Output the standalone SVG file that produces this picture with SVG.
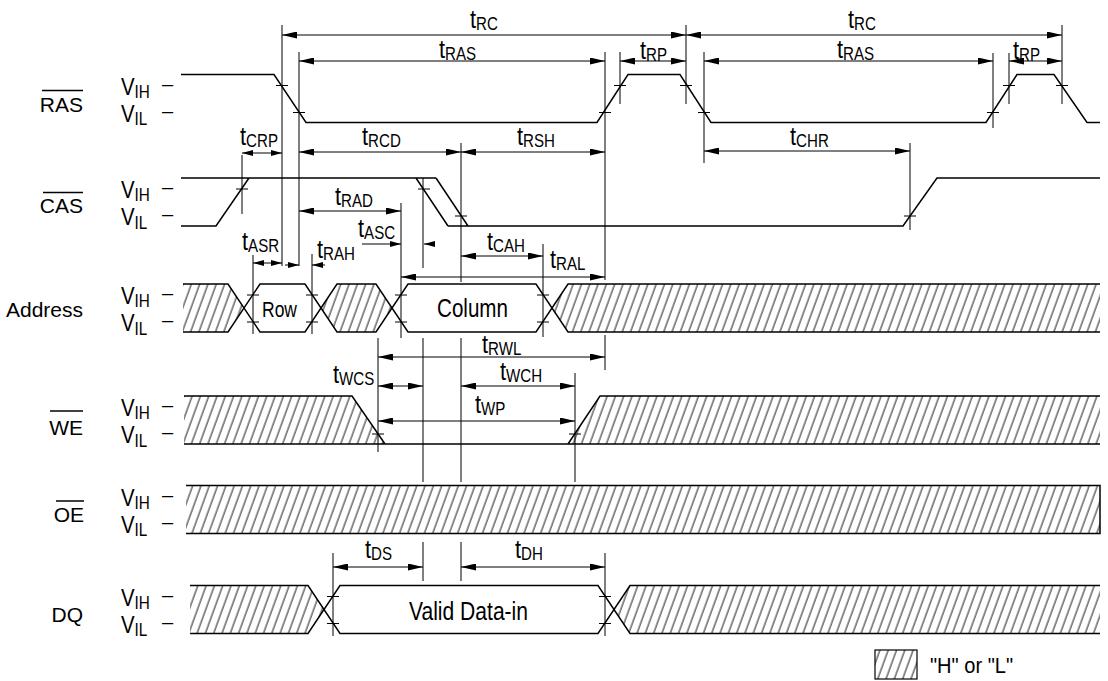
<svg xmlns="http://www.w3.org/2000/svg" width="1108" height="681" viewBox="0 0 1108 681">
<defs>
<style>
text{font-family:"Liberation Sans",Arial,sans-serif;fill:#000}
.nm{font-size:21px;text-anchor:end}
.v{font-size:24px}
.vs{font-size:18px}
.dash{font-size:20px}
.tl{font-size:26px}
.ts{font-size:18px}
.wave{fill:none;stroke:#000;stroke-width:1.5;stroke-linejoin:miter}
.hz{fill:url(#hatch);stroke:none}
.vl{stroke:#000;stroke-width:1;fill:none}
.tick{stroke:#000;stroke-width:1.2;fill:none}
.dim{stroke:#000;stroke-width:1;fill:none;marker-start:url(#ah);marker-end:url(#ah)}
.dims{stroke:#000;stroke-width:1;fill:none;marker-start:url(#as);marker-end:url(#as)}
.out{stroke:#000;stroke-width:1;fill:none;marker-end:url(#as)}
.bar{stroke:#000;stroke-width:1.5}
</style>
<pattern id="hatch" patternUnits="userSpaceOnUse" width="7.8" height="20" patternTransform="rotate(20)">
<line x1="4" y1="-1" x2="4" y2="21" stroke="#000" stroke-width="0.9"/>
</pattern>
<marker id="ah" markerUnits="userSpaceOnUse" viewBox="0 0 15 7" markerWidth="15" markerHeight="7" refX="15" refY="3.5" orient="auto-start-reverse">
<path d="M0,0 L15,3.5 L0,7 Z" fill="#000"/>
</marker>
<marker id="as" markerUnits="userSpaceOnUse" viewBox="0 0 11 6" markerWidth="11" markerHeight="6" refX="11" refY="3" orient="auto-start-reverse">
<path d="M0,0 L11,3 L0,6 Z" fill="#000"/>
</marker>
</defs>
<rect width="1108" height="681" fill="#fff"/>

<!-- RAS -->
<g id="sig-ras">
<text class="nm" x="83" y="112">RAS</text>
<line class="bar" x1="42" y1="90.5" x2="83" y2="90.5"/>
<text transform="translate(121,94.5) scale(0.85,1)"><tspan class="v">V</tspan><tspan class="vs" dy="3">IH</tspan></text><text class="dash" x="162" y="90.9">–</text>
<text transform="translate(121,121.5) scale(0.85,1)"><tspan class="v">V</tspan><tspan class="vs" dy="3.5">IL</tspan></text><text class="dash" x="162" y="117.9">–</text>
<path class="wave" d="M181,74.5 H274 L306,122.5 H597 L628,74.5 H680 L711,122.5 H986 L1017,74.5 H1054 L1087,122.5 H1100"/>
<path class="tick" d="M276,85.5h12 M293,112.5h12 M599,112.5h12 M614,85.5h12 M680,85.5h12 M698,112.5h12 M987,112.5h12 M1003,85.5h12 M1056,85.5h12"/>
</g>

<!-- CAS -->
<g id="sig-cas">
<text class="nm" x="83" y="213">CAS</text>
<line class="bar" x1="43" y1="192.5" x2="83" y2="192.5"/>
<text transform="translate(121,198) scale(0.85,1)"><tspan class="v">V</tspan><tspan class="vs" dy="3">IH</tspan></text><text class="dash" x="162" y="194.4">–</text>
<text transform="translate(121,225) scale(0.85,1)"><tspan class="v">V</tspan><tspan class="vs" dy="3.5">IL</tspan></text><text class="dash" x="162" y="221.4">–</text>
<path class="wave" d="M181,226 H216 L249,178 M181,178 H436 M416,178 L448,226 M436,178 L468,226 M448,226 H903 L937,178 H1100"/>
<path class="tick" d="M236,189h12 M418,189h12 M455,216h12 M904,216h12"/>
</g>

<!-- Address -->
<g id="sig-address">
<text class="nm" x="83" y="317">Address</text>
<text transform="translate(121,304) scale(0.85,1)"><tspan class="v">V</tspan><tspan class="vs" dy="3">IH</tspan></text><text class="dash" x="162" y="300.4">–</text>
<text transform="translate(121,331) scale(0.85,1)"><tspan class="v">V</tspan><tspan class="vs" dy="3.5">IL</tspan></text><text class="dash" x="162" y="327.4">–</text>
<path class="hz" d="M183,284 H228 L244,308 L228,332 H183 Z M321,308 L337,284 H376 L392,308 L376,332 H337 Z M552,308 L568,284 H1100 V332 H568 Z"/>
<path class="wave" d="M183,284 H228 L260,332 H305 L337,284 H376 L408,332 H536 L568,284 H1100 M183,332 H228 L260,284 H305 L337,332 H376 L408,284 H536 L568,332 H1100"/>
<text x="262" y="317" font-size="22" textLength="35" lengthAdjust="spacingAndGlyphs">Row</text>
<text x="437" y="317" font-size="25" textLength="71" lengthAdjust="spacingAndGlyphs">Column</text>
<path class="tick" d="M247,295h12 M247,322h12 M306,295h12 M306,322h12 M395,295h12 M395,322h12 M537,295h12 M537,322h12"/>
</g>

<!-- WE -->
<g id="sig-we">
<text class="nm" x="83" y="435">WE</text>
<line class="bar" x1="50" y1="411" x2="83" y2="411"/>
<text transform="translate(121,416) scale(0.85,1)"><tspan class="v">V</tspan><tspan class="vs" dy="3">IH</tspan></text><text class="dash" x="162" y="412.4">–</text>
<text transform="translate(121,443) scale(0.85,1)"><tspan class="v">V</tspan><tspan class="vs" dy="3.5">IL</tspan></text><text class="dash" x="162" y="439.4">–</text>
<path class="hz" d="M184,396 H352 L385,444 H184 Z M568,444 L600,396 H1100 V444 Z"/>
<path class="wave" d="M184,396 H352 L385,444 M184,444 H1100 M568,444 L600,396 H1100"/>
<path class="tick" d="M372,434h12 M569,434h12"/>
</g>

<!-- OE -->
<g id="sig-oe">
<text class="nm" x="84" y="522">OE</text>
<line class="bar" x1="56" y1="501" x2="84" y2="501"/>
<text transform="translate(121,505.5) scale(0.85,1)"><tspan class="v">V</tspan><tspan class="vs" dy="3">IH</tspan></text><text class="dash" x="162" y="501.9">–</text>
<text transform="translate(121,532.5) scale(0.85,1)"><tspan class="v">V</tspan><tspan class="vs" dy="3.5">IL</tspan></text><text class="dash" x="162" y="528.9">–</text>
<rect class="hz" x="186" y="485.5" width="914" height="48"/>
<path class="wave" d="M186,485.5 H1100 V533.5 H186"/>
</g>

<!-- DQ -->
<g id="sig-dq">
<text class="nm" x="83" y="622">DQ</text>
<text transform="translate(121,605.5) scale(0.85,1)"><tspan class="v">V</tspan><tspan class="vs" dy="3">IH</tspan></text><text class="dash" x="162" y="601.9">–</text>
<text transform="translate(121,632.5) scale(0.85,1)"><tspan class="v">V</tspan><tspan class="vs" dy="3.5">IL</tspan></text><text class="dash" x="162" y="628.9">–</text>
<path class="hz" d="M190,585.5 H308 L324,609.5 L308,633.5 H190 Z M614,609.5 L630,585.5 H1100 V633.5 H630 Z"/>
<path class="wave" d="M190,585.5 H308 L340,633.5 H598 L630,585.5 H1100 M190,633.5 H308 L340,585.5 H598 L630,633.5 H1100"/>
<text x="409" y="620" font-size="25" textLength="119" lengthAdjust="spacingAndGlyphs">Valid Data-in</text>
<path class="tick" d="M327,596.5h12 M327,623.5h12 M599,596.5h12 M599,623.5h12"/>
</g>

<!-- Legend -->
<g id="legend">
<rect class="hz" x="875" y="650" width="42" height="29"/>
<rect x="875" y="650" width="42" height="29" fill="none" stroke="#000" stroke-width="1.2"/>
<text x="930" y="673" font-size="22" textLength="83" lengthAdjust="spacingAndGlyphs">"H" or "L"</text>
</g>

<!-- connectors: reference lines and timing dimensions -->
<g id="connectors">
<path class="vl" d="M282,25V266 M299,52V266 M242,155V214 M253,255V334 M312,254V334 M401,203V338 M423,178V268 M423,338V482 M423,542V581 M461,143V282 M461,338V482 M461,542V581 M543,244V337 M605,52V280 M605,335V370 M605,553V636 M620,52V104 M686,25V104 M704,52V163 M910,143V230 M993,53V128 M1009,53V104 M1062,25V104 M378,338V452 M575,373V482 M333,553V636"/>
<path class="dim" d="M282,35H686"/>
<path class="dim" d="M686,35H1062"/>
<path class="dim" d="M299,61H605"/>
<path class="dim" d="M620,61H686"/>
<path class="dim" d="M704,61H993"/>
<path class="dim" d="M1009,61H1062"/>
<path class="dim" d="M299,152H461"/>
<path class="dim" d="M461,152H605"/>
<path class="dim" d="M704,151H910"/>
<path class="dim" d="M299,211H401"/>
<path class="dim" d="M461,256H543"/>
<path class="dim" d="M401,277H605"/>
<path class="dim" d="M378,357H605"/>
<path class="dim" d="M378,386H423"/>
<path class="dim" d="M461,386H575"/>
<path class="dim" d="M378,421H575"/>
<path class="dim" d="M333,567H423"/>
<path class="dim" d="M461,567H605"/>
<path class="dims" d="M242,153H282"/>
<path class="dims" d="M253,263H282"/>
<path class="out" d="M362,244H401"/>
<path class="out" d="M434,244H424"/>
<path class="out" d="M285,265H299"/>
<path class="out" d="M325,265H312"/>
</g>

<!-- timing labels -->
<g id="labels">
<text transform="translate(470,28) scale(0.84,1)"><tspan class="tl">t</tspan><tspan class="ts" dy="2">RC</tspan></text>
<text transform="translate(848,28) scale(0.84,1)"><tspan class="tl">t</tspan><tspan class="ts" dy="2">RC</tspan></text>
<text transform="translate(439,58) scale(0.84,1)"><tspan class="tl">t</tspan><tspan class="ts" dy="2">RAS</tspan></text>
<text transform="translate(837,58) scale(0.84,1)"><tspan class="tl">t</tspan><tspan class="ts" dy="2">RAS</tspan></text>
<text transform="translate(640,59) scale(0.84,1)"><tspan class="tl">t</tspan><tspan class="ts" dy="2">RP</tspan></text>
<text transform="translate(1013,59) scale(0.84,1)"><tspan class="tl">t</tspan><tspan class="ts" dy="2">RP</tspan></text>
<text transform="translate(240,145) scale(0.84,1)"><tspan class="tl">t</tspan><tspan class="ts" dy="2">CRP</tspan></text>
<text transform="translate(362,145) scale(0.84,1)"><tspan class="tl">t</tspan><tspan class="ts" dy="2">RCD</tspan></text>
<text transform="translate(517,145) scale(0.84,1)"><tspan class="tl">t</tspan><tspan class="ts" dy="2">RSH</tspan></text>
<text transform="translate(790,145) scale(0.84,1)"><tspan class="tl">t</tspan><tspan class="ts" dy="2">CHR</tspan></text>
<text transform="translate(335,205) scale(0.84,1)"><tspan class="tl">t</tspan><tspan class="ts" dy="2">RAD</tspan></text>
<text transform="translate(358,237) scale(0.84,1)"><tspan class="tl">t</tspan><tspan class="ts" dy="2">ASC</tspan></text>
<text transform="translate(242,250) scale(0.84,1)"><tspan class="tl">t</tspan><tspan class="ts" dy="2">ASR</tspan></text>
<text transform="translate(317,258) scale(0.84,1)"><tspan class="tl">t</tspan><tspan class="ts" dy="2">RAH</tspan></text>
<text transform="translate(487,250) scale(0.84,1)"><tspan class="tl">t</tspan><tspan class="ts" dy="2">CAH</tspan></text>
<text transform="translate(550,268) scale(0.84,1)"><tspan class="tl">t</tspan><tspan class="ts" dy="2">RAL</tspan></text>
<text transform="translate(482,353) scale(0.84,1)"><tspan class="tl">t</tspan><tspan class="ts" dy="2">RWL</tspan></text>
<text transform="translate(333,383) scale(0.84,1)"><tspan class="tl">t</tspan><tspan class="ts" dy="2">WCS</tspan></text>
<text transform="translate(500,380) scale(0.84,1)"><tspan class="tl">t</tspan><tspan class="ts" dy="2">WCH</tspan></text>
<text transform="translate(475,413) scale(0.84,1)"><tspan class="tl">t</tspan><tspan class="ts" dy="2">WP</tspan></text>
<text transform="translate(365,558) scale(0.84,1)"><tspan class="tl">t</tspan><tspan class="ts" dy="2">DS</tspan></text>
<text transform="translate(515,558) scale(0.84,1)"><tspan class="tl">t</tspan><tspan class="ts" dy="2">DH</tspan></text>
</g>
</svg>
